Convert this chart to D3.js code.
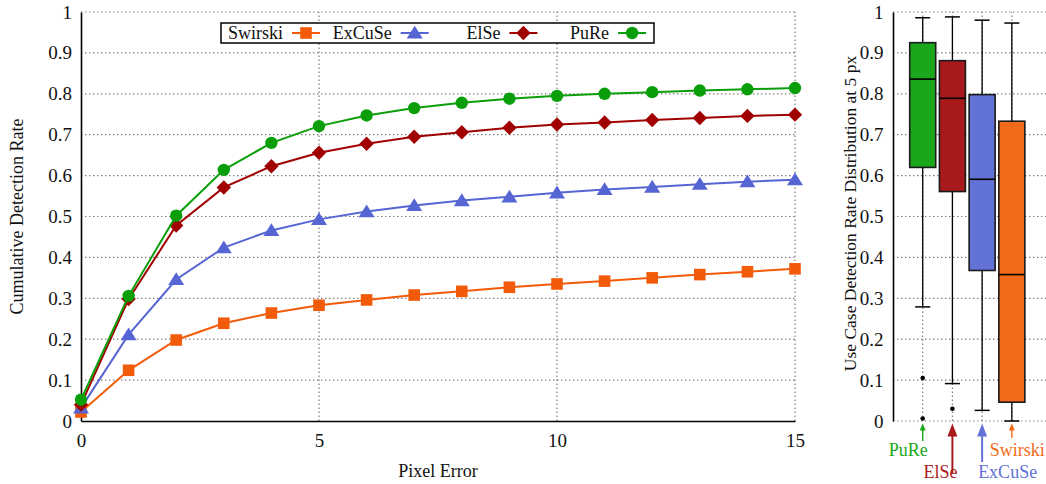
<!DOCTYPE html>
<html>
<head>
<meta charset="utf-8">
<script src="https://cdn.jsdelivr.net/npm/d3@7/dist/d3.min.js"></script>
<style>
  html, body { margin: 0; padding: 0; background: #fff; }
  svg { display: block; }
  text { font-family: "Liberation Serif", "Times New Roman", serif; fill: #111; }
</style>
</head>
<body>
<svg id="chart" width="1046" height="484"></svg>
<script>
// ---------------- DATA ----------------
const pixelError = [0,1,2,3,4,5,6,7,8,9,10,11,12,13,14,15];
const seriesNames = ["Swirski", "ExCuSe", "ElSe", "PuRe"];
const swirskiRate = [0.022,0.124,0.198,0.239,0.264,0.283,0.296,0.308,0.317,0.327,0.335,0.342,0.350,0.358,0.365,0.372];
const excuseRate  = [0.032,0.211,0.346,0.424,0.466,0.493,0.512,0.527,0.539,0.548,0.558,0.566,0.572,0.579,0.585,0.590];
const elseRate    = [0.040,0.298,0.478,0.571,0.623,0.656,0.678,0.695,0.706,0.717,0.725,0.730,0.736,0.741,0.746,0.749];
const pureRate    = [0.052,0.306,0.502,0.614,0.680,0.721,0.747,0.765,0.778,0.788,0.795,0.800,0.804,0.808,0.811,0.814];

const yTicks = [0,0.1,0.2,0.3,0.4,0.5,0.6,0.7,0.8,0.9,1];
const yTickLabels = ["0","0.1","0.2","0.3","0.4","0.5","0.6","0.7","0.8","0.9","1"];
const xTicks = [0,5,10,15];
const xTickLabels = ["0","5","10","15"];

// box plot (use case detection rate at 5 px)
const boxNames     = ["PuRe", "ElSe", "ExCuSe", "Swirski"];
const boxWhiskerHi = [0.986, 0.988, 0.980, 0.973];
const boxQ3        = [0.925, 0.881, 0.798, 0.733];
const boxMedian    = [0.836, 0.789, 0.591, 0.358];
const boxQ1        = [0.620, 0.561, 0.368, 0.046];
const boxWhiskerLo = [0.279, 0.0915, 0.026, 0.0];
const boxOutliers  = [[0.105, 0.006], [0.030], [], []];

// ---------------- STYLE ----------------
const lineColors = { Swirski: "#f15b0a", ExCuSe: "#5566d4", ElSe: "#a00000", PuRe: "#0a9f0a" };
const boxColors  = { PuRe: "#1ba71b", ElSe: "#a8191c", ExCuSe: "#6272d6", Swirski: "#f26b1a" };
const seriesData = { Swirski: swirskiRate, ExCuSe: excuseRate, ElSe: elseRate, PuRe: pureRate };
const markerShape = { Swirski: "square", ExCuSe: "triangle", ElSe: "diamond", PuRe: "circle" };

function markerPath(shape) {
  const p = d3.path();
  if (shape === "square") { p.rect(-5.8, -5.8, 11.6, 11.6); }
  else if (shape === "circle") { p.arc(0, 0, 6.2, 0, 2 * Math.PI); }
  else if (shape === "diamond") { p.moveTo(0, -7.2); p.lineTo(7.2, 0); p.lineTo(0, 7.2); p.lineTo(-7.2, 0); p.closePath(); }
  else if (shape === "triangle") { p.moveTo(0, -7.2); p.lineTo(8, 5.6); p.lineTo(-8, 5.6); p.closePath(); }
  return p.toString();
}

const svg = d3.select("#chart");
svg.append("rect").attr("width", 1046).attr("height", 484).attr("fill", "#fff");

const FONT = 18, TICKFONT = 19;
const gridStyle = sel => sel.attr("stroke", "#7a7a7a").attr("stroke-width", 1.2).attr("stroke-dasharray", "1.4,2.6").attr("fill", "none");

// ---------------- LEFT CHART ----------------
const xL = d3.scaleLinear().domain([0, 15]).range([81, 795]);
const yL = d3.scaleLinear().domain([0, 1]).range([421, 12]);

const gL = svg.append("g");
// horizontal grid
gL.selectAll(".hg").data(yTicks.filter(d => d > 0)).join("line")
  .attr("x1", xL(0)).attr("x2", xL(15)).attr("y1", d => yL(d)).attr("y2", d => yL(d)).call(gridStyle);
// vertical grid
gL.selectAll(".vg").data(xTicks.filter(d => d > 0)).join("line")
  .attr("x1", d => xL(d)).attr("x2", d => xL(d)).attr("y1", yL(0)).attr("y2", yL(1)).call(gridStyle);

// axes
const axL = gL.append("g").attr("transform", `translate(${xL(0)},0)`)
  .call(d3.axisLeft(yL).tickValues(yTicks).tickFormat((d, i) => yTickLabels[i]).tickSize(0).tickSizeOuter(0).tickPadding(9));
const axB = gL.append("g").attr("transform", `translate(0,${yL(0)})`)
  .call(d3.axisBottom(xL).tickValues(xTicks).tickFormat((d, i) => xTickLabels[i]).tickSize(0).tickSizeOuter(0).tickPadding(12.5));
[axL, axB].forEach(a => {
  a.select(".domain").attr("stroke", "#000").attr("stroke-width", 1.6);
  a.selectAll("text").attr("font-size", TICKFONT).attr("font-family", "Liberation Serif, serif").attr("fill", "#111");
});

// axis titles
gL.append("text").attr("transform", `translate(23,${(yL(0) + yL(1)) / 2}) rotate(-90)`)
  .attr("text-anchor", "middle").attr("font-size", FONT).text("Cumulative Detection Rate");
gL.append("text").attr("x", (xL(0) + xL(15)) / 2).attr("y", 477)
  .attr("text-anchor", "middle").attr("font-size", FONT).text("Pixel Error");

// series lines and markers
const lineGen = d3.line().x((d, i) => xL(pixelError[i])).y(d => yL(d));
seriesNames.forEach(name => {
  const g = gL.append("g");
  g.append("path").datum(seriesData[name]).attr("d", lineGen)
    .attr("fill", "none").attr("stroke", lineColors[name]).attr("stroke-width", 2);
  g.selectAll("path.m").data(seriesData[name]).join("path").attr("class", "m")
    .attr("d", markerPath(markerShape[name]))
    .attr("transform", (d, i) => `translate(${xL(pixelError[i])},${yL(d)})`)
    .attr("fill", lineColors[name]);
});

// legend
const leg = svg.append("g");
const legX = 221, legY = 23, legW = 433, legH = 20;
leg.append("rect").attr("x", legX).attr("y", legY).attr("width", legW).attr("height", legH)
  .attr("fill", "#fff").attr("stroke", "#000").attr("stroke-width", 1.5);
seriesNames.forEach((name, i) => {
  const textRight = legX + 62 + i * 108.7;
  const cx = textRight + 23, cy = legY + legH / 2;
  leg.append("text").attr("x", textRight).attr("y", cy).attr("dy", "0.35em")
    .attr("text-anchor", "end").attr("font-size", FONT).text(name);
  leg.append("line").attr("x1", cx - 14).attr("x2", cx + 14).attr("y1", cy).attr("y2", cy)
    .attr("stroke", lineColors[name]).attr("stroke-width", 2);
  leg.append("path").attr("d", markerPath(markerShape[name])).attr("transform", `translate(${cx},${cy})`)
    .attr("fill", lineColors[name]);
});

// ---------------- RIGHT CHART (box plot) ----------------
const xR = d3.scaleLinear().domain([0, 5.15]).range([893, 1046]);
const yR = d3.scaleLinear().domain([0, 1]).range([421, 12]);
const boxPos = boxNames.map((d, i) => i + 1);
const gR = svg.append("g");

gR.selectAll(".hg").data(yTicks).join("line")
  .attr("x1", xR(0)).attr("x2", xR(5.15)).attr("y1", d => yR(d)).attr("y2", d => yR(d)).call(gridStyle);
gR.selectAll(".vg").data(boxPos).join("line")
  .attr("x1", d => xR(d)).attr("x2", d => xR(d)).attr("y1", yR(0)).attr("y2", yR(1)).call(gridStyle);

const axR = gR.append("g").attr("transform", `translate(${xR(0)},0)`)
  .call(d3.axisLeft(yR).tickValues(yTicks).tickFormat((d, i) => yTickLabels[i]).tickSize(0).tickSizeOuter(0).tickPadding(9.5));
axR.select(".domain").attr("stroke", "#000").attr("stroke-width", 1.6);
axR.selectAll("text").attr("font-size", TICKFONT).attr("font-family", "Liberation Serif, serif").attr("fill", "#111");

gR.append("text").attr("transform", `translate(856,${(yR(0) + yR(1)) / 2 - 3}) rotate(-90)`)
  .attr("text-anchor", "middle").attr("font-size", 17.5).text("Use Case Detection Rate Distribution at 5 px");

const boxHalf = 13, capHalf = 7.5;
boxNames.forEach((name, i) => {
  const cx = xR(boxPos[i]);
  const g = gR.append("g");
  // whiskers
  g.append("line").attr("x1", cx).attr("x2", cx).attr("y1", yR(boxWhiskerHi[i])).attr("y2", yR(boxQ3[i]))
    .attr("stroke", "#000").attr("stroke-width", 1.3);
  g.append("line").attr("x1", cx).attr("x2", cx).attr("y1", yR(boxQ1[i])).attr("y2", yR(boxWhiskerLo[i]))
    .attr("stroke", "#000").attr("stroke-width", 1.3);
  [boxWhiskerHi[i], boxWhiskerLo[i]].forEach(v => {
    g.append("line").attr("x1", cx - capHalf).attr("x2", cx + capHalf).attr("y1", yR(v)).attr("y2", yR(v))
      .attr("stroke", "#000").attr("stroke-width", 1.5);
  });
  // box
  g.append("rect").attr("x", cx - boxHalf).attr("width", 2 * boxHalf)
    .attr("y", yR(boxQ3[i])).attr("height", yR(boxQ1[i]) - yR(boxQ3[i]))
    .attr("fill", boxColors[name]).attr("stroke", "#1a1a1a").attr("stroke-width", 1.6);
  g.append("line").attr("x1", cx - boxHalf).attr("x2", cx + boxHalf).attr("y1", yR(boxMedian[i])).attr("y2", yR(boxMedian[i]))
    .attr("stroke", "#000").attr("stroke-width", 1.6);
  // outliers
  g.selectAll("circle").data(boxOutliers[i]).join("circle")
    .attr("cx", cx).attr("cy", d => yR(d)).attr("r", 2.3).attr("fill", "#000");
});

// arrows + labels under the box plot
const arrowSpec = {
  PuRe:    { bottom: 441, head: 7,  hw: 3,   lw: 1.4, anchor: "end",   dx: 5,   ty: 456 },
  ElSe:    { bottom: 473, head: 13, hw: 5,   lw: 2,   anchor: "end",   dx: 5,   ty: 478 },
  ExCuSe:  { bottom: 462, head: 13, hw: 5,   lw: 2,   anchor: "start", dx: -4,  ty: 478 },
  Swirski: { bottom: 438, head: 7,  hw: 3,   lw: 1.4, anchor: "start", dx: -22, ty: 456 }
};
boxNames.forEach((name, i) => {
  const cx = xR(boxPos[i]);
  const s = arrowSpec[name];
  const tip = yR(0) + 2.5;
  gR.append("line").attr("x1", cx).attr("x2", cx).attr("y1", s.bottom).attr("y2", tip + s.head - 1)
    .attr("stroke", boxColors[name]).attr("stroke-width", s.lw);
  gR.append("path").attr("d", `M${cx},${tip} L${cx + s.hw},${tip + s.head} L${cx - s.hw},${tip + s.head} Z`)
    .attr("fill", boxColors[name]);
  gR.append("text").attr("x", cx + s.dx).attr("y", s.ty).attr("text-anchor", s.anchor)
    .attr("font-size", FONT).style("fill", boxColors[name]).text(name);
});
</script>
</body>
</html>
